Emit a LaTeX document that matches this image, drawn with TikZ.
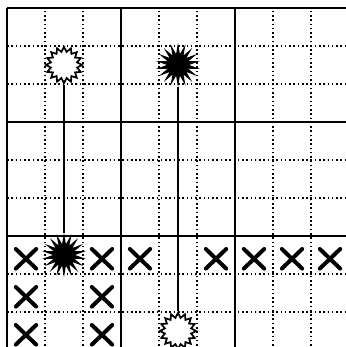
\documentclass[tikz,border=0pt]{standalone}
\usetikzlibrary{shapes.geometric,shapes.misc}
\begin{document}
\begin{tikzpicture}[x=1cm,y=1cm,
  thin grid/.style={line width=1.2pt,dotted},
  thick grid/.style={line width=1.8pt},
  hollowstar/.style={star,star points=16,star point ratio=1.35,minimum size=0.95cm,inner sep=0pt,draw,line width=1.3pt,fill=white},
  filledstar/.style={star,star points=18,star point ratio=2.0,minimum size=0.95cm,inner sep=0pt,draw,line width=1pt,fill=black},
  xmark/.style={cross out,draw,line width=3pt,line cap=round,minimum width=0.43cm,minimum height=0.41cm,inner sep=0pt,yshift=-0.1cm},
  link/.style={line width=2pt}]
\useasboundingbox (-0.184,0.079) rectangle (8.895,9.21);
\fill[white] (-0.184,0.079) rectangle (8.895,9.21);
% dotted grid
\foreach \i in {1,2,4,5,7,8} {
  \draw[thin grid] (\i,0) -- (\i,9);
  \draw[thin grid] (0,\i) -- (9,\i);
}
% thick grid
\foreach \i in {0,3,6,9} {
  \draw[thick grid] (\i,0) -- (\i,9);
  \draw[thick grid] (0,\i) -- (9,\i);
}
% stars
\node[hollowstar] (h1) at (1.5,7.5) {};
\node[filledstar] (f1) at (1.5,2.5) {};
\node[filledstar] (f2) at (4.5,7.5) {};
\node[hollowstar] (h2) at (4.5,0.5) {};
\draw[link] (h1) -- (f1);
\draw[link] (f2) -- (h2);
% crosses
\foreach \c in {0,2,3,5,6,7,8} {
  \node[xmark] (x6\c) at (\c+0.5,2.5) {};
}
\foreach \c in {0,2} {
  \node[xmark] (x7\c) at (\c+0.5,1.5) {};
  \node[xmark] (x8\c) at (\c+0.5,0.5) {};
}
\end{tikzpicture}
\end{document}
